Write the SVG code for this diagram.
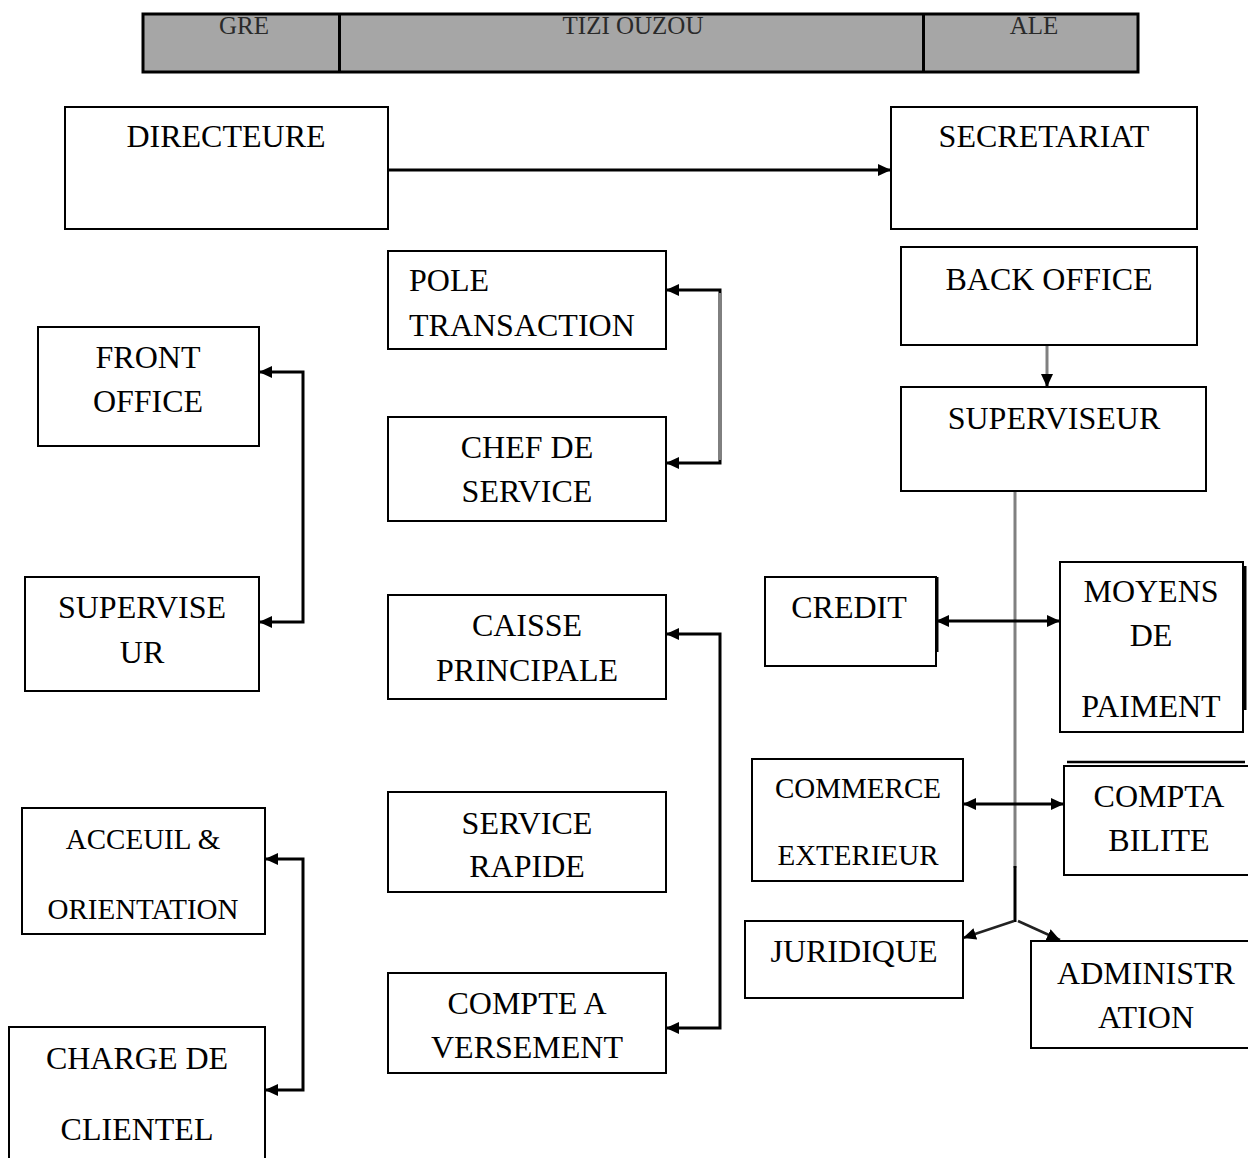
<svg xmlns="http://www.w3.org/2000/svg" width="1248" height="1158" viewBox="0 0 1248 1158">
<style>
.box{fill:#fff;stroke:#000;stroke-width:2}
.t{font-family:"Liberation Serif","Times New Roman",serif;font-size:32px;fill:#000;text-anchor:middle}
.s{font-size:29px}
.l{text-anchor:start}
.h{font-family:"Liberation Serif","Times New Roman",serif;font-size:25px;fill:#2a2a2a;text-anchor:middle}
.c{fill:none;stroke:#000;stroke-width:3}
.g{fill:none;stroke:#808080;stroke-width:3}
</style>
<defs>
<marker id="ah" markerUnits="userSpaceOnUse" markerWidth="14" markerHeight="14" refX="13" refY="7" orient="auto-start-reverse">
<path d="M0,1 L13,7 L0,13 z" fill="#000"/>
</marker>
</defs>
<g id="header">
<rect x="143" y="14" width="995" height="58" fill="#a6a6a6" stroke="#000" stroke-width="3"/>
<line x1="339.5" y1="14" x2="339.5" y2="72" stroke="#000" stroke-width="3"/>
<line x1="923.5" y1="14" x2="923.5" y2="72" stroke="#000" stroke-width="3"/>
<text class="h" x="244" y="34">GRE</text>
<text class="h" x="633" y="34">TIZI OUZOU</text>
<text class="h" x="1034" y="34">ALE</text>
</g>
<g id="connectors">
<line class="c" x1="388" y1="170" x2="891" y2="170" marker-end="url(#ah)"/>
<polyline class="c" points="666,290 720,290 720,463 666,463" marker-start="url(#ah)" marker-end="url(#ah)"/>
<line class="g" x1="720" y1="293" x2="720" y2="460"/>
<line class="g" x1="1047" y1="345" x2="1047" y2="376"/>
<line class="c" x1="1047" y1="374" x2="1047" y2="387" marker-end="url(#ah)"/>
<polyline class="c" points="259,372 303,372 303,622 259,622" marker-start="url(#ah)" marker-end="url(#ah)"/>
<polyline class="c" points="666,634 720,634 720,1028 666,1028" marker-start="url(#ah)" marker-end="url(#ah)"/>
<polyline class="c" points="265,859 303,859 303,1090 265,1090" marker-start="url(#ah)" marker-end="url(#ah)"/>
<line class="g" x1="1015" y1="491" x2="1015" y2="868"/>
<line class="c" x1="1015" y1="866" x2="1015" y2="922"/>
<line class="c" x1="936" y1="621" x2="1060" y2="621" marker-start="url(#ah)" marker-end="url(#ah)"/>
<line class="c" x1="963" y1="804" x2="1064" y2="804" marker-start="url(#ah)" marker-end="url(#ah)"/>
<line stroke="#222" stroke-width="2.5" x1="1014" y1="921" x2="963" y2="938" marker-end="url(#ah)"/>
<line stroke="#222" stroke-width="2.5" x1="1018" y1="921" x2="1060" y2="940" marker-end="url(#ah)"/>
</g>
<g id="directeure"><rect class="box" x="65" y="107" width="323" height="122"/><text class="t" x="226" y="147">DIRECTEURE</text></g>
<g id="secretariat"><rect class="box" x="891" y="107" width="306" height="122"/><text class="t" x="1044" y="147">SECRETARIAT</text></g>
<g id="pole-transaction"><rect class="box" x="388" y="251" width="278" height="98"/><text class="t l" x="409" y="291">POLE</text><text class="t l" x="409" y="336">TRANSACTION</text></g>
<g id="chef-de-service"><rect class="box" x="388" y="417" width="278" height="104"/><text class="t" x="527" y="458">CHEF DE</text><text class="t" x="527" y="502">SERVICE</text></g>
<g id="back-office"><rect class="box" x="901" y="247" width="296" height="98"/><text class="t" x="1049" y="290">BACK OFFICE</text></g>
<g id="superviseur"><rect class="box" x="901" y="387" width="305" height="104"/><text class="t" x="1054" y="429">SUPERVISEUR</text></g>
<g id="front-office"><rect class="box" x="38" y="327" width="221" height="119"/><text class="t" x="148" y="368">FRONT</text><text class="t" x="148" y="412">OFFICE</text></g>
<g id="superviseur-front"><rect class="box" x="25" y="577" width="234" height="114"/><text class="t" x="142" y="618">SUPERVISE</text><text class="t" x="142" y="663">UR</text></g>
<g id="caisse-principale"><rect class="box" x="388" y="595" width="278" height="104"/><text class="t" x="527" y="636">CAISSE</text><text class="t" x="527" y="681">PRINCIPALE</text></g>
<g id="service-rapide"><rect class="box" x="388" y="792" width="278" height="100"/><text class="t" x="527" y="834">SERVICE</text><text class="t" x="527" y="877">RAPIDE</text></g>
<g id="compte-a-versement"><rect class="box" x="388" y="973" width="278" height="100"/><text class="t" x="527" y="1014">COMPTE A</text><text class="t" x="527" y="1058">VERSEMENT</text></g>
<g id="acceuil-orientation"><rect class="box" x="22" y="808" width="243" height="126"/><text class="t s" x="143" y="849">ACCEUIL &amp;</text><text class="t s" x="143" y="919">ORIENTATION</text></g>
<g id="charge-de-clientel"><rect class="box" x="9" y="1027" width="256" height="140"/><text class="t" x="137" y="1069">CHARGE DE</text><text class="t" x="137" y="1140">CLIENTEL</text></g>
<g id="credit"><rect class="box" x="765" y="577" width="171" height="89"/><line x1="937.5" y1="577" x2="937.5" y2="652" stroke="#000" stroke-width="2"/><text class="t" x="849" y="618">CREDIT</text></g>
<g id="moyens-de-paiment"><rect class="box" x="1060" y="562" width="183" height="170"/><line x1="1245" y1="566" x2="1245" y2="710" stroke="#000" stroke-width="3"/><text class="t" x="1151" y="602">MOYENS</text><text class="t" x="1151" y="646">DE</text><text class="t" x="1151" y="717">PAIMENT</text></g>
<g id="commerce-exterieur"><rect class="box" x="752" y="759" width="211" height="122"/><text class="t s" x="858" y="798">COMMERCE</text><text class="t s" x="858" y="865">EXTERIEUR</text></g>
<g id="comptabilite"><line x1="1067" y1="762" x2="1245" y2="762" stroke="#000" stroke-width="2.5"/><rect class="box" x="1064" y="766" width="186" height="109"/><text class="t" x="1159" y="807">COMPTA</text><text class="t" x="1159" y="851">BILITE</text></g>
<g id="juridique"><rect class="box" x="745" y="921" width="218" height="77"/><text class="t" x="854" y="962">JURIDIQUE</text></g>
<g id="administration"><rect class="box" x="1031" y="941" width="219" height="107"/><text class="t" x="1146" y="984">ADMINISTR</text><text class="t" x="1146" y="1028">ATION</text></g>
</svg>
